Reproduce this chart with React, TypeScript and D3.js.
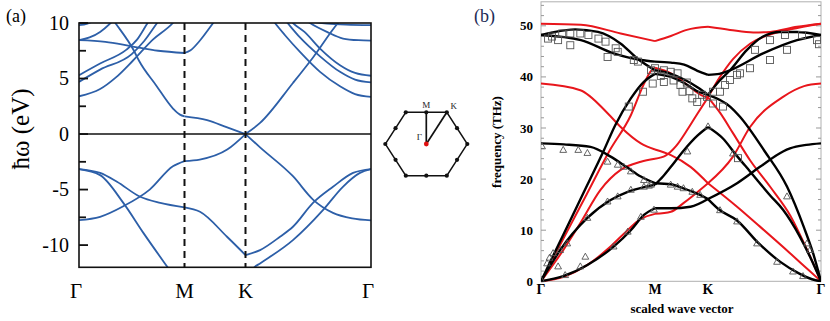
import React from "react";
import * as d3 from "d3";

type Pt = [number, number];

// Path Γ–M–K–Γ: each straight segment spans one unit of path coordinate
const pathNodes = [0, 1, 2, 3];
const pathLabels = ["Γ", "M", "K", "Γ"];

// ---------- (a) electronic band structure, energy in eV ----------
const energyTicks = [10, 5, 0, -5, -10];
const energyMinorTicks = [7.5, 2.5, -2.5, -7.5];

const bandPiValence: Pt[] = [
  [0, -7.75], [0.2, -7.45], [0.42, -6.5], [0.67, -5.0], [0.89, -2.9], [1, -2.43],
  [1.25, -2.3], [1.7, -1.4], [2, 0],
  [2.116, -1.2], [2.378, -3.8], [2.538, -5.9], [2.697, -7.1], [2.85, -7.6], [3, -7.78],
];
const bandPiConduction: Pt[] = [
  [0.2, 12.2], [0.28, 10.9], [0.33, 10.2], [0.521, 7.5], [0.569, 6.6], [0.73, 4.4],
  [0.891, 2.3], [0.957, 1.75], [1, 1.6],
  [1.37, 1.26], [1.7, 0.6], [2, 0],
  [2.116, 1.0], [2.378, 4.6], [2.538, 6.9], [2.737, 10], [2.8, 10.8],
];
const bandSigmaSteep: Pt[] = [
  [0, -3.15], [0.2, -3.7], [0.42, -6.2], [0.61, -8.9], [0.84, -12], [0.9, -12.8],
  [2.02, -12.7], [2.07, -12], [2.116, -11.65], [2.378, -9.55], [2.617, -6.85],
  [2.776, -4.75], [2.912, -3.5], [3, -3.15],
];
const bandSigmaFlat: Pt[] = [
  [0, -3.15], [0.2, -3.5], [0.36, -4.3], [0.58, -5.65], [0.77, -6.2], [1, -6.6],
  [1.254, -7.0], [1.697, -9.25], [2, -10.9],
  [2.116, -10.45], [2.275, -9.25], [2.378, -8.35], [2.538, -6.2], [2.697, -4.75],
  [2.857, -3.5], [3, -3.15],
];
const bandUpper1: Pt[] = [
  [0, 3.4], [0.2, 4.05], [0.35, 5.1], [0.51, 6.6], [0.7, 8.5], [0.89, 10], [0.96, 10.8],
  [2.19, 10.7], [2.235, 10], [2.315, 8.9], [2.434, 7.4], [2.594, 5.6], [2.753, 4.3],
  [2.873, 3.6], [3, 3.35],
];
const bandUpper2: Pt[] = [
  [0, 4.7], [0.2, 5.8], [0.5, 7.2], [0.62, 8.4], [0.74, 10], [0.8, 10.8],
  [2.29, 10.6], [2.335, 10], [2.434, 8.7], [2.594, 7.0], [2.753, 5.6], [2.873, 4.9],
  [3, 4.65],
];
const bandUpper3: Pt[] = [
  [0, 5.3], [0.2, 6.35], [0.45, 7.6], [0.55, 8.5], [0.65, 10], [0.72, 11],
  [2.33, 10.6], [2.378, 10], [2.47, 9.2], [2.594, 7.7], [2.753, 6.2], [2.873, 5.5],
  [3, 5.25],
];
const bandUpperM: Pt[] = [
  [0, 8.45], [0.25, 8.3], [0.5, 7.9], [0.75, 7.5], [1, 7.3],
  [1.1, 7.55], [1.25, 8.4], [1.47, 10], [1.55, 10.6],
];
const bandUpper4: Pt[] = [
  [0, 8.45], [0.1, 8.7], [0.2, 9.2], [0.3, 10], [0.38, 10.8],
  [2.45, 10.5], [2.514, 10], [2.649, 9.2], [2.777, 8.6], [2.9, 8.45], [3, 8.42],
];
const bandUpper5: Pt[] = [
  [0, 9.8], [0.08, 9.95], [0.16, 10.3], [0.25, 11],
  [2.5, 10.3], [2.567, 10.05], [2.65, 9.95], [2.8, 9.85], [3, 9.8],
];

const electronBands: Pt[][] = [
  bandPiValence, bandPiConduction, bandSigmaSteep, bandSigmaFlat,
  bandUpper1, bandUpper2, bandUpper3, bandUpperM, bandUpper4, bandUpper5,
];

// ---------- (b) phonon dispersion, frequency in THz ----------
const freqTicks = [0, 10, 20, 30, 40, 50];

// first-principles branches (black)
const dftZA: Pt[] = [
  [0, 0], [0.195, 1.0], [0.407, 3.2], [0.637, 6.8], [0.788, 10], [0.903, 13], [1, 14.3],
  [1.3, 14.3], [1.67, 14.6], [2, 16.1],
  [2.257, 19.2], [2.46, 22.4], [2.664, 25.4], [2.726, 26.0], [2.87, 26.7], [3, 27.0],
];
const dftZO: Pt[] = [
  [0, 27.0], [0.2, 26.8], [0.434, 26.3], [0.611, 24.4], [0.761, 22.2], [0.876, 20.5], [1, 19.2],
  [1.296, 19.0], [1.537, 18.2], [1.852, 16.9], [2, 16.1],
  [2.1, 14.0], [2.257, 11.9], [2.45, 7.4], [2.64, 3.8], [2.8, 1.6], [2.92, 0.4], [3, 0],
];
const dftTA: Pt[] = [
  [0, 0], [0.08, 3.0], [0.168, 6.1], [0.407, 12.4], [0.611, 15.9], [0.761, 17.5], [0.938, 18.6], [1, 18.9],
  [1.15, 20.5], [1.3, 22.4], [1.55, 25.7], [1.8, 28.5], [2, 30.2],
  [2.13, 28.0], [2.257, 24.5], [2.372, 21.5], [2.55, 16.8], [2.664, 14.0], [2.814, 8.7], [2.903, 4.8], [3, 0],
];
const dftLA: Pt[] = [
  [0, 0], [0.1, 4.7], [0.2, 9.3], [0.372, 17.3], [0.551, 25.6], [0.65, 30.5], [0.788, 35.8], [0.9, 39.0], [1, 40.6],
  [1.3, 40.0], [1.55, 38.8], [1.78, 37.3], [2, 36.5],
  [2.195, 34.2], [2.283, 32.2], [2.5, 25.5], [2.7, 18.5], [2.85, 10.5], [2.93, 5.5], [3, 0],
];
const dftLO: Pt[] = [
  [0, 48.2], [0.1, 48.7], [0.3, 49.3], [0.5, 48.8], [0.7, 46.5], [0.85, 43.5], [1, 41.3],
  [1.3, 40.6], [1.55, 39.5], [1.8, 38.0], [2, 36.5],
  [2.1, 39.2], [2.195, 41.3], [2.345, 45.3], [2.487, 47.9], [2.637, 48.8], [2.788, 48.8], [3, 48.2],
];
const dftTO: Pt[] = [
  [0, 48.2], [0.35, 47.2], [0.637, 44.6], [0.876, 43.3], [1, 43.0],
  [1.3, 42.8], [1.55, 42.4], [1.8, 41.2], [2, 40.4],
  [2.1, 40.6], [2.195, 41.3], [2.487, 44.6], [2.788, 47.2], [3, 48.2],
];

// force-constant model branches (red)
const modelTop: Pt[] = [
  [0, 50.4], [0.35, 50.2], [0.699, 48.5], [1, 47.0],
  [1.3, 48.0], [1.6, 49.2], [2, 49.8],
  [2.195, 49.2], [2.4, 48.7], [2.55, 48.8], [2.788, 49.8], [3, 50.4],
];
const modelZO: Pt[] = [
  [0, 38.7], [0.345, 37.4], [0.584, 32.9], [0.699, 30.2], [0.876, 27.0], [1, 25.8],
  [1.3, 24.7], [1.67, 22.4], [2, 19.2],
  [2.257, 14.6], [2.46, 10.7], [2.726, 5.5], [2.9, 2.0], [3, 0],
];
const modelZA: Pt[] = [
  [0, 0], [0.2, 0.9], [0.4, 3.1], [0.6, 6.6], [0.75, 9.8], [0.876, 12.2], [1, 13.2],
  [1.3, 13.6], [1.537, 15.3], [2, 19.2],
  [2.221, 24.4], [2.372, 30.2], [2.664, 36.1], [2.85, 38.2], [3, 38.7],
];
const modelTA: Pt[] = [
  [0, 0], [0.195, 6.1], [0.345, 11.4], [0.522, 17.9], [0.699, 21.8], [0.876, 23.4], [1, 24.0],
  [1.2, 24.6], [1.4, 26.5], [1.6, 29.5], [1.8, 32.8], [2, 36.0],
  [2.106, 40.0], [2.221, 43.5], [2.372, 46.5], [2.55, 48.3], [2.73, 49.3], [3, 50.4],
];
const modelLA: Pt[] = [
  [0, 0], [0.2, 8.5], [0.4, 17], [0.6, 25.5], [0.788, 32.5], [0.9, 38.5], [0.965, 41.2], [1, 41.8],
  [1.3, 40.7], [1.6, 38.5], [1.9, 36.3], [2, 36.0],
  [2.106, 33.0], [2.221, 29.0], [2.372, 23.7], [2.55, 18.5], [2.73, 12.8], [2.87, 6.5], [3, 0],
];

const dftBranches: Pt[][] = [dftZA, dftZO, dftTA, dftLA, dftLO, dftTO];
const modelBranches: Pt[][] = [modelTop, modelZO, modelZA, modelTA, modelLA];

// measured frequencies
const squarePoints: Pt[] = [
  [0.062, 47.5], [0.097, 47.9], [0.15, 47.2], [0.186, 48.5], [0.257, 48.5], [0.257, 46.2],
  [0.345, 48.5], [0.416, 48.2], [0.504, 47.5], [0.566, 46.9], [0.584, 43.9], [0.655, 45.6],
  [0.673, 44.9], [0.77, 34.2], [0.814, 43.3], [0.85, 43.0], [0.894, 37.1], [0.965, 41.3], [0.98, 38.7],
  [1.0, 41.7], [1.11, 40.2], [1.167, 41.3], [1.167, 39.0], [1.296, 41.0], [1.35, 39.3], [1.426, 40.7],
  [1.48, 38.4], [1.519, 37.1], [1.6, 38.9], [1.65, 37.2], [1.704, 35.8], [1.796, 35.1], [1.889, 36.5],
  [1.981, 36.1],
  [2.044, 37.1], [2.044, 34.8], [2.106, 37.1], [2.133, 34.2], [2.15, 38.4], [2.195, 39.4], [2.257, 40.4],
  [2.265, 24.1], [2.283, 40.7], [2.372, 41.7], [2.416, 45.3], [2.549, 47.2], [2.549, 43.3], [2.681, 48.2],
  [2.699, 45.3], [2.832, 48.2], [2.965, 47.2], [2.982, 46.4],
];
const trianglePoints: Pt[] = [
  [0.0, 0.3], [0.009, 26.4], [0.053, 3.5], [0.075, 4.6], [0.106, 5.5], [0.15, 2.9], [0.168, 6.1],
  [0.195, 25.7], [0.212, 1.2], [0.23, 7.4], [0.327, 25.7], [0.345, 2.9], [0.389, 4.8], [0.407, 12.4],
  [0.407, 25.1], [0.584, 23.4], [0.584, 15.6], [0.637, 6.8], [0.673, 22.8], [0.673, 16.6], [0.726, 22.4],
  [0.761, 9.7], [0.788, 21.5], [0.788, 17.9], [0.876, 12.6], [0.903, 19.8], [0.903, 18.5], [0.947, 18.7],
  [0.965, 18.9], [0.991, 14.0],
  [1.296, 18.9], [1.426, 18.5], [1.537, 18.2], [1.611, 25.4], [1.704, 17.5], [1.852, 16.9], [2.0, 30.3],
  [2.106, 13.9], [2.221, 25.0], [2.257, 11.7], [2.434, 7.4], [2.611, 3.8], [2.699, 16.6], [2.752, 1.9],
  [2.841, 1.0], [2.876, 7.4], [2.903, 6.1],
];

// Split a branch at the high-symmetry points so that each segment is smoothed on its own
function segmentsOf(pts: Pt[]): Pt[][] {
  const out: Pt[][] = [];
  for (let i = 0; i < 3; i++) {
    const seg = pts.filter((p) => p[0] >= i && p[0] <= i + 1);
    if (seg.length >= 2) out.push(seg);
  }
  return out;
}

const serif = "'Liberation Serif', 'Times New Roman', Times, serif";

export default function App() {
  // panel (a) geometry
  const ax = d3.scaleLinear().domain(pathNodes).range([79, 184.5, 245.5, 371]);
  const ay = d3.scaleLinear().domain([-12, 10]).range([267.3, 23]);
  const lineA = d3
    .line<Pt>()
    .x((d) => ax(d[0]))
    .y((d) => ay(d[1]))
    .curve(d3.curveMonotoneX);

  // panel (b) geometry
  const bx = d3.scaleLinear().domain(pathNodes).range([541, 655, 708, 821]);
  const by = d3.scaleLinear().domain([0, 54.7]).range([281.3, 1.8]);
  const lineB = d3
    .line<Pt>()
    .x((d) => bx(d[0]))
    .y((d) => by(d[1]))
    .curve(d3.curveMonotoneX);
  const freqMinor = d3.range(0, 55, 2).filter((v) => v % 10 !== 0);

  // Brillouin-zone inset (flat-topped hexagon in reciprocal units)
  const ix = d3.scaleLinear().domain([-1, 1]).range([385.3, 467.3]);
  const iy = d3.scaleLinear().domain([-1, 1]).range([180.6, 107.4]);
  const h = Math.sqrt(3) / 2;
  const hexCorners: Pt[] = d3.range(6).map((i) => [Math.cos((i * Math.PI) / 3), Math.sin((i * Math.PI) / 3)]);
  const hexMids: Pt[] = hexCorners.map((c, i) => {
    const n = hexCorners[(i + 1) % 6];
    return [(c[0] + n[0]) / 2, (c[1] + n[1]) / 2];
  });
  const bzM: Pt = [0, h];
  const bzK: Pt = [0.5, h];

  const [ax0, ax1] = [ax(0), ax(3)];
  const [ayTop, ayBot] = [ay(10), ay(-12)];
  const [bx0, bx1] = [bx(0), bx(3)];
  const [byTop, byBot] = [by(54.7), by(0)];

  const tri = "M0,-3.6 L3.4,2.4 L-3.4,2.4 Z";

  return (
    <svg
      width={830}
      height={321}
      viewBox="0 0 830 321"
      style={{ position: "absolute", left: 0, top: 0, background: "#fff" }}
      fontFamily={serif}
    >
      <defs>
        <clipPath id="clipA">
          <rect x={ax0} y={ayTop} width={ax1 - ax0} height={ayBot - ayTop} />
        </clipPath>
        <clipPath id="clipB">
          <rect x={bx0} y={byTop} width={bx1 - bx0} height={byBot - byTop + 1} />
        </clipPath>
      </defs>
      <rect x={0} y={0} width={830} height={321} fill="#fff" />

      {/* ---------------- panel (a) ---------------- */}
      <text x={6} y={22} fontSize={18}>(a)</text>
      <g clipPath="url(#clipA)">
        {electronBands.map((band, i) =>
          segmentsOf(band).map((seg, j) => (
            <path key={`e${i}-${j}`} d={lineA(seg) ?? ""} fill="none" stroke="#2d5fa8" strokeWidth={1.8} />
          ))
        )}
      </g>
      {[1, 2].map((k) => (
        <line
          key={`dash${k}`}
          x1={ax(k)}
          x2={ax(k)}
          y1={ayTop}
          y2={ayBot}
          stroke="#111"
          strokeWidth={2}
          strokeDasharray="7,5"
        />
      ))}
      <line x1={ax0} x2={ax1} y1={ay(0)} y2={ay(0)} stroke="#111" strokeWidth={1.6} />
      <rect x={ax0} y={ayTop} width={ax1 - ax0} height={ayBot - ayTop} fill="none" stroke="#111" strokeWidth={1.6} />
      {energyTicks.map((v) => (
        <g key={`et${v}`}>
          <line x1={ax0} x2={ax0 + 9} y1={ay(v)} y2={ay(v)} stroke="#111" strokeWidth={1.8} />
          <text x={69} y={ay(v)} dy="0.34em" textAnchor="end" fontSize={20}>
            {v}
          </text>
        </g>
      ))}
      {energyMinorTicks.map((v) => (
        <line key={`em${v}`} x1={ax0} x2={ax0 + 7} y1={ay(v)} y2={ay(v)} stroke="#111" strokeWidth={1.8} />
      ))}
      {pathLabels.map((l, i) => (
        <text key={`al${i}`} x={ax(pathNodes[i]) - (l === "Γ" ? 3 : 0)} y={298} textAnchor="middle" fontSize={21}>
          {l}
        </text>
      ))}
      <text transform="translate(29,129) rotate(-90)" textAnchor="middle" fontSize={25}>
        ħω (eV)
      </text>

      {/* Brillouin zone inset */}
      <polygon
        points={hexCorners.map((c) => `${ix(c[0])},${iy(c[1])}`).join(" ")}
        fill="none"
        stroke="#111"
        strokeWidth={1.4}
      />
      <line x1={ix(0)} y1={iy(0)} x2={ix(bzM[0])} y2={iy(bzM[1])} stroke="#111" strokeWidth={1.7} />
      <line x1={ix(0)} y1={iy(0)} x2={ix(bzK[0])} y2={iy(bzK[1])} stroke="#111" strokeWidth={1.7} />
      {[...hexCorners, ...hexMids].map((c, i) => (
        <circle key={`bz${i}`} cx={ix(c[0])} cy={iy(c[1])} r={2.1} fill="#111" />
      ))}
      <circle cx={ix(0)} cy={iy(0)} r={2.4} fill="#e01010" />
      <text x={ix(bzM[0])} y={iy(bzM[1]) - 4} textAnchor="middle" fontSize={9} fill="#222">M</text>
      <text x={ix(bzK[0]) + 7} y={iy(bzK[1]) - 3} textAnchor="middle" fontSize={9} fill="#222">K</text>
      <text x={ix(0) - 7} y={iy(0) - 4} textAnchor="middle" fontSize={9} fill="#222">Γ</text>

      {/* ---------------- panel (b) ---------------- */}
      <text x={474} y={22} fontSize={18} fill="#1d2b55">(b)</text>
      <rect x={bx0} y={byTop} width={bx1 - bx0} height={byBot - byTop} fill="none" stroke="#b0b0b0" strokeWidth={1} />
      {freqTicks.map((v) => (
        <g key={`ft${v}`}>
          <line x1={bx0} x2={bx0 + 5} y1={by(v)} y2={by(v)} stroke="#999" strokeWidth={1} />
          <line x1={bx1} x2={bx1 - 5} y1={by(v)} y2={by(v)} stroke="#999" strokeWidth={1} />
          <text x={533} y={by(v)} dy="0.35em" textAnchor="end" fontSize={13} fontWeight="bold">
            {v}
          </text>
        </g>
      ))}
      {freqMinor.map((v) => (
        <g key={`fm${v}`}>
          <line x1={bx0} x2={bx0 + 3} y1={by(v)} y2={by(v)} stroke="#999" strokeWidth={1} />
          <line x1={bx1} x2={bx1 - 3} y1={by(v)} y2={by(v)} stroke="#999" strokeWidth={1} />
        </g>
      ))}
      <g clipPath="url(#clipB)">
        {modelBranches.map((br, i) =>
          segmentsOf(br).map((seg, j) => (
            <path key={`r${i}-${j}`} d={lineB(seg) ?? ""} fill="none" stroke="#e8161c" strokeWidth={2} />
          ))
        )}
        {dftBranches.map((br, i) =>
          segmentsOf(br).map((seg, j) => (
            <path key={`b${i}-${j}`} d={lineB(seg) ?? ""} fill="none" stroke="#000" strokeWidth={2.4} />
          ))
        )}
        {squarePoints.map((p, i) => (
          <rect
            key={`sq${i}`}
            x={bx(p[0]) - 3.5}
            y={by(p[1]) - 3.5}
            width={7}
            height={7}
            fill="none"
            stroke="#555"
            strokeWidth={0.9}
          />
        ))}
        {trianglePoints.map((p, i) => (
          <path
            key={`tr${i}`}
            d={tri}
            transform={`translate(${bx(p[0])},${by(p[1])})`}
            fill="none"
            stroke="#555"
            strokeWidth={0.9}
          />
        ))}
      </g>
      {pathLabels.map((l, i) => (
        <text key={`bl${i}`} x={bx(pathNodes[i])} y={294} textAnchor="middle" fontSize={14} fontWeight="bold">
          {l}
        </text>
      ))}
      <text x={682} y={313} textAnchor="middle" fontSize={13} fontWeight="bold">
        scaled wave vector
      </text>
      <text transform="translate(501,142) rotate(-90)" textAnchor="middle" fontSize={13} fontWeight="bold">
        frequency (THz)
      </text>
    </svg>
  );
}
